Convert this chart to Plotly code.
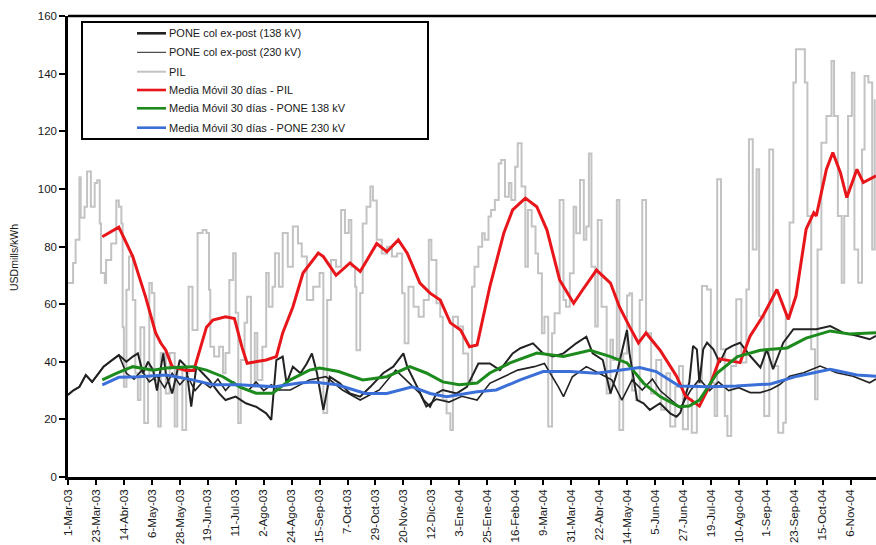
import pandas as pd
import plotly.graph_objects as go

START = pd.Timestamp("2003-03-01")
END = pd.Timestamp("2004-11-26")

# Daily PIL price (days since 1-Mar-03, USDmills/kWh)
pil_day = [0, 4, 6, 9, 10, 13, 15, 18, 21, 23, 25, 26, 29, 30, 34, 38, 40, 42, 43, 44,
           46, 48, 51, 53, 55, 57, 60, 63, 64, 66, 68, 71, 73, 77, 80, 84, 86, 90, 93, 95,
           98, 102, 106, 109, 111, 112, 115, 119, 122, 124, 127, 130, 132, 134, 136, 139, 141, 144, 147, 149,
           153, 156, 158, 161, 163, 166, 169, 173, 177, 181, 184, 188, 193, 198, 201, 204, 207, 211, 215, 218,
           221, 223, 226, 227, 230, 232, 235, 238, 240, 243, 247, 251, 255, 259, 263, 265, 268, 272, 276, 280,
           284, 286, 290, 293, 295, 298, 301, 303, 307, 311, 315, 318, 320, 323, 326, 328, 331, 333, 336, 339,
           341, 344, 347, 349, 352, 354, 357, 360, 362, 365, 368, 370, 373, 375, 378, 381, 383, 387, 390, 392,
           395, 398, 400, 403, 406, 408, 410, 412, 415, 417, 420, 424, 427, 429, 432, 434, 437, 440, 442, 444,
           447, 450, 452, 455, 459, 463, 467, 471, 474, 478, 481, 484, 488, 491, 495, 499, 503, 506, 509, 511,
           514, 517, 519, 522, 526, 530, 534, 536, 539, 542, 544, 548, 552, 555, 559, 563, 565, 568, 571, 573,
           577, 580, 582, 585, 588, 590, 593, 597, 601, 603, 606, 609, 611, 614, 617, 619, 622, 625, 627, 630,
           633, 635]
pil = [67.3, 74.3, 82.3, 104, 90, 93.8, 106, 93.8, 102, 103, 88, 70.8, 67.3, 75.3, 81, 96, 93.8, 88, 52, 31.3,
       65, 76.5, 61.4, 36, 26.7, 52, 18.7, 33.7, 67.3, 63.9, 33.7, 17.5, 43, 29, 43, 17.5, 38.3, 16.3, 36, 66,
       51, 84.7, 85.7, 84.7, 65, 45.2, 41.8, 45.2, 36, 43, 68.4, 77.7, 57, 18.7, 40.6, 53.5, 62.6, 31.3, 50, 33.7,
       45.2, 70.8, 59.1, 66, 77.7, 66, 84.7, 73, 86.9, 81, 76.5, 61.4, 66, 70.8, 22.2, 61.4, 75.3, 73, 92.7, 84.7,
       89.2, 73, 66, 44, 63.9, 88, 93.8, 100.8, 96, 82.3, 77.6, 79.9, 76.5, 77.6, 63.8, 46.4, 66, 59.1, 55.6, 61.4,
       82.3, 75.3, 60.3, 55.6, 26.7, 22.1, 16.3, 55.6, 52.2, 42.9, 32.5, 66, 73, 79.9, 84.6, 82.3, 90.4, 92.7, 96.1, 108.8,
       110, 97.3, 102, 96.1, 107.7, 115.8, 100.8, 73, 92.7, 86.9, 77.6, 70.7, 49.9, 55.6, 17.5, 49.9, 56.8, 96.1, 61.4, 59.1,
       70.7, 93.8, 84.6, 103.1, 82.3, 86.9, 112.3, 73, 52.2, 89.2, 59.1, 29, 47.6, 40.6, 96.1, 16.3, 42.9, 63, 63.8, 30,
       26.7, 61.4, 96.1, 49.9, 29, 40.6, 23.3, 36, 17.5, 31.3, 38.5, 16.6, 27, 15.4, 32.7, 66.3, 65.1, 32.7, 21.2, 103.3,
       44.3, 21.2, 14.2, 38.5, 61.7, 39.7, 65.1, 117.2, 79, 106.8, 55.9, 21.2, 113.7, 38.5, 15.4, 18.8, 55.9, 88.3, 136.9, 148.5,
       148.5, 136.9, 90.6, 44.3, 27, 79, 116, 125.3, 144.4, 125.3, 90.6, 67.4, 90.6, 125.3, 140.3, 79, 67.4, 113.7, 139.2, 136.9,
       79, 131.1]

# PONE col ex-post, 138 kV
pone138_day = [0, 4, 9, 14, 19, 24, 28, 33, 40, 46, 51, 55, 59, 63, 67, 70, 75, 77, 82, 88,
               93, 97, 101, 106, 111, 119, 124, 132, 140, 148, 156, 160, 164, 169, 172, 177, 183, 188, 192, 196,
               201, 206, 214, 222, 230, 238, 248, 256, 264, 267, 272, 280, 285, 290, 295, 306, 314, 319, 323, 332,
               340, 350, 356, 366, 374, 382, 390, 400, 408, 413, 421, 427, 432, 440, 442, 448, 453, 458, 466, 474,
               479, 482, 489, 492, 495, 497, 500, 503, 508, 513, 518, 523, 529, 537, 545, 550, 555, 563, 571, 579,
               589, 600, 610, 621, 631, 636]
pone138 = [28.5, 30, 31.3, 35.4, 33, 36, 38.3, 40, 42.3, 40, 41.8, 42.9, 36, 40, 37.1, 30, 42.9, 36, 29, 40.6,
           38.3, 24.4, 38.3, 36, 33.7, 29, 26.7, 27.9, 25.6, 24.4, 22.1, 19.8, 40.6, 41.8, 32.5, 38.3, 36, 39.4, 42.9, 36,
           23.3, 34.8, 32.5, 29, 27.9, 31.3, 36, 38.3, 42.9, 38.3, 33.7, 26.7, 24.4, 29, 30.2, 29, 31.3, 36, 39.4, 39.4,
           37.1, 42.9, 44.7, 46.4, 42.9, 41.8, 42.9, 46.4, 48.7, 42.9, 40.6, 29, 36, 51, 42.9, 26.7, 25.6, 23.3, 25.6, 22.1,
           20.9, 22.3, 32.7, 45.5, 44.3, 32.7, 44.3, 46.6, 44.3, 39.7, 44.3, 45.5, 46.6, 42, 38, 44.3, 37.4, 46.6, 51.3, 51.3,
           51.3, 52.4, 50.1, 49, 47.8, 49]

# PONE col ex-post, 230 kV
pone230_day = [0, 4, 9, 14, 19, 24, 28, 33, 40, 46, 52, 58, 64, 70, 76, 82, 88, 94, 100, 106,
               112, 118, 124, 130, 136, 142, 148, 154, 160, 166, 175, 190, 203, 216, 230, 245, 258, 266, 277, 282,
               290, 300, 310, 322, 332, 343, 354, 367, 375, 386, 390, 397, 408, 418, 428, 436, 444, 452, 460, 466,
               474, 482, 490, 497, 505, 512, 520, 528, 537, 545, 553, 560, 568, 579, 592, 605, 618, 631, 636]
pone230 = [28.5, 30, 31.3, 35.4, 33, 36, 38.3, 40, 42.3, 36, 34, 37, 33, 35, 31, 36, 32, 35, 30, 33,
           31, 34, 30, 33, 31, 30, 33, 30, 32, 30.2, 30.2, 33.7, 34.8, 30.2, 26.7, 30.2, 37.1, 33.7, 29, 24.4,
           27, 26, 28, 26.7, 32.5, 34.8, 37.1, 38.3, 39.4, 31.3, 27.9, 34.8, 38.3, 36, 33.7, 26.7, 33.7, 30.2, 34, 30,
           27, 24, 30, 34, 30, 33, 30, 31, 29.3, 29.3, 30.4, 32, 35, 36.2, 38.5, 36.2, 35, 32.7, 34]

# 30-day moving averages
ma_pil_day = [27, 40, 51, 61, 69, 73, 77, 82, 93, 99, 103, 109, 114, 124, 131, 137, 141, 156, 164, 169,
              177, 185, 197, 201, 211, 222, 230, 243, 251, 260, 267, 277, 285, 293, 301, 309, 316, 322, 332, 343,
              350, 360, 369, 377, 387, 398, 405, 416, 427, 434, 442, 449, 455, 466, 476, 479, 486, 497, 505, 513,
              529, 537, 547, 558, 567, 573, 581, 587, 589, 597, 602, 608, 613, 621, 626, 631, 636]
ma_pil = [83.4, 86.7, 76.5, 62.6, 50, 46.5, 44, 38.3, 37, 37, 43, 52, 54.5, 55.6, 55, 45, 39.5, 40.6, 41.8, 50,
          59, 70.8, 77.7, 76.5, 70, 74.3, 71.3, 81, 78.2, 82.3, 77.7, 67.3, 63.8, 61.4, 53.5, 51, 45.2, 45.8, 66, 84.6,
          92.7, 96.8, 93.8, 85.7, 68.4, 60.3, 64.9, 71.8, 67.3, 59.1, 52.2, 46.5, 50, 44, 37.1, 35, 28.1, 24.6, 31.6, 41,
          39.7, 49, 55.9, 65.1, 54.7, 62.8, 86, 91.7, 90.6, 106.8, 112.6, 105.6, 97, 106.8, 102.2, 103.3, 104.5]

ma138_day = [27, 38, 51, 67, 77, 98, 109, 122, 135, 148, 161, 175, 190, 198, 213, 232, 251, 269, 282, 295,
             308, 322, 332, 348, 369, 390, 411, 427, 440, 453, 466, 481, 489, 497, 511, 527, 545, 566, 581, 600,
             615, 636]
ma138 = [33.7, 36, 38.3, 37.1, 37.8, 38.3, 37.1, 34.8, 31.3, 29.1, 29.1, 33.7, 37.1, 37.8, 36.6, 33.7, 34.8, 38.3, 36.1, 33,
         32, 32.6, 36.1, 39.6, 43, 41.8, 44, 41.8, 39.6, 32.6, 27.9, 24.4, 24.6, 26.7, 36.1, 41.8, 44, 44.8, 48.2, 50.7,
         49.6, 50.1]

ma230_day = [27, 40, 56, 77, 85, 98, 114, 135, 163, 182, 193, 212, 234, 251, 271, 285, 298, 322, 337, 356,
             374, 395, 416, 434, 450, 463, 481, 504, 526, 553, 574, 600, 621, 636]
ma230 = [32, 34.6, 34.8, 35.4, 34.8, 33.7, 32, 32, 31.3, 32.6, 33, 32, 29, 29, 31.3, 29, 27.9, 29.6, 30.2, 33.7,
         36.6, 36.6, 36, 37.1, 38, 36.6, 31.6, 31.3, 31.6, 32.3, 35, 37.4, 35.4, 35]

SPANISH_MONTHS = ["Ene", "Feb", "Mar", "Abr", "May", "Jun",
                  "Jul", "Ago", "Sep", "Oct", "Nov", "Dic"]
tick_dates = pd.date_range(START, END, freq="22D")
tick_labels = [f"{d.day}-{SPANISH_MONTHS[d.month - 1]}-{d.strftime('%y')}" for d in tick_dates]

FONT = "Liberation Sans, Arial, sans-serif"


def to_dates(days):
    return START + pd.to_timedelta(days, unit="D")


# name, days, values, colour, plot width, legend sample width, line shape
series = [
    ("PONE col ex-post (138 kV)", pone138_day, pone138, "#222222", 2.0, 2.6, "linear"),
    ("PONE col ex-post (230 kV)", pone230_day, pone230, "#222222", 1.6, 1.0, "linear"),
    ("PIL", pil_day, pil, "#c3c3c3", 2.0, 2.0, "hv"),
    ("Media Móvil 30 días - PIL", ma_pil_day, ma_pil, "#e8161b", 3.0, 2.6, "linear"),
    ("Media Móvil 30 días - PONE 138 kV", ma138_day, ma138, "#1c8a1c", 3.0, 2.6, "linear"),
    ("Media Móvil 30 días - PONE 230 kV", ma230_day, ma230, "#3b6fd8", 3.0, 2.6, "linear"),
]
draw_order = [2, 1, 0, 3, 4, 5]

fig = go.Figure()
for i in draw_order:
    name, days, vals, color, width, _, shape = series[i]
    fig.add_trace(go.Scatter(x=to_dates(days), y=vals, mode="lines", name=name,
                             line=dict(color=color, width=width, shape=shape),
                             showlegend=False))

# Plot-area geometry (pixels) used to place the legend box
L, R, T, B = 68, 876, 16, 477
W, H = R - L, B - T


def px_x(p):
    return (p - L) / W


def px_y(p):
    return (B - p) / H


shapes = [
    # top frame line
    dict(type="line", xref="paper", yref="paper", x0=0, x1=1, y0=1, y1=1,
         line=dict(color="black", width=2.5)),
    # legend box
    dict(type="rect", xref="paper", yref="paper", x0=px_x(82), x1=px_x(428),
         y0=px_y(139), y1=px_y(22), line=dict(color="black", width=2),
         fillcolor="white", layer="above"),
]
annotations = []
rows = [33.3, 52.3, 71.7, 90.0, 108.3, 127.7]
for (name, _, _, color, _, lw, _), ry in zip(series, rows):
    shapes.append(dict(type="line", xref="paper", yref="paper", x0=px_x(137), x1=px_x(166),
                       y0=px_y(ry), y1=px_y(ry), line=dict(color=color, width=lw), layer="above"))
    annotations.append(dict(xref="paper", yref="paper", x=px_x(167), y=px_y(ry), text=name,
                            showarrow=False, xanchor="left", yanchor="middle",
                            font=dict(family=FONT, size=11, color="#1a1a1a")))

annotations.append(dict(xref="paper", yref="paper", x=px_x(14), y=px_y(258), text="USDmills/kWh",
                        textangle=-90, showarrow=False, xanchor="center", yanchor="middle",
                        font=dict(family=FONT, size=10.5, color="#1a1a1a")))

fig.update_layout(
    width=876, height=545,
    margin=dict(l=L, r=876 - R, t=T, b=545 - B, autoexpand=False),
    paper_bgcolor="white", plot_bgcolor="white",
    shapes=shapes, annotations=annotations,
    showlegend=False,
    xaxis=dict(type="date", range=[START, END], tickmode="array",
               tickvals=tick_dates, ticktext=tick_labels, tickangle=-90,
               ticks="outside", ticklen=5, tickwidth=2, tickcolor="black",
               showline=True, linecolor="black", linewidth=2.5, showgrid=False,
               zeroline=False, automargin=False,
               tickfont=dict(family=FONT, size=11.5, color="#1a1a1a")),
    yaxis=dict(range=[0, 160], tickmode="array", tickvals=list(range(0, 161, 20)),
               ticks="outside", ticklen=6, tickwidth=2, tickcolor="black",
               showline=True, linecolor="black", linewidth=2.5, showgrid=False,
               zeroline=False, automargin=False,
               tickfont=dict(family=FONT, size=11.5, color="#1a1a1a")),
)

fig.write_html("out.html")
